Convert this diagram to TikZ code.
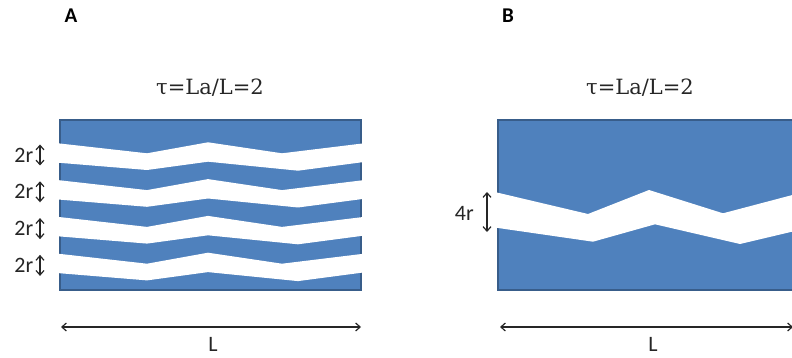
\documentclass[tikz,border=0pt]{standalone}
\usepackage{fontspec}
\setmainfont{Carlito}
\newfontfamily\taufont{DejaVu Serif}
\usetikzlibrary{arrows.meta}
\definecolor{bandblue}{HTML}{4F81BD}
\definecolor{bandedge}{HTML}{385D8A}
\definecolor{inkgray}{HTML}{262626}

\begin{document}
\begin{tikzpicture}[x=1pt,y=-1pt,
    slab/.style={fill=bandblue,draw=bandedge,line width=1.5pt},
    gap/.style={fill=white,draw=none},
    dimarrow/.style={{Straight Barb[length=4.5pt,width=8pt]}-{Straight Barb[length=4.5pt,width=8pt]},line width=1.2pt,inkgray},
    lbl/.style={font=\fontsize{22}{26}\selectfont,text=inkgray,inner sep=0pt},
    panel/.style={font=\fontsize{21}{25}\selectfont\bfseries,inner sep=0pt},
    ratio/.style={font=\taufont\fontsize{21}{25}\selectfont,text=inkgray,inner sep=0pt}]
    \clip (0,0) rectangle (792,358);

    % A: vier smalle spleten
    \node[panel] (titleA) at (71,16) {A};
    \node[ratio] (ratioA) at (210,88) {τ=La/L=2};
    \draw[slab] (60,120) rectangle (361,290);
    \foreach \k in {0,...,3} {
        \pgfmathsetmacro{\dy}{36.8*\k}
        \fill[gap] (58,{143.3+\dy}) -- (147,{153.3+\dy}) -- (208,{142.3+\dy}) -- (282,{153.3+\dy}) -- (364,{143.3+\dy})
            -- (364,{162+\dy}) -- (298,{170.7+\dy}) -- (208,{161.7+\dy}) -- (147,{170+\dy}) -- (58,{162.7+\dy}) -- cycle;
        \coordinate (rtop\k) at (40,{144.5+\dy});
        \coordinate (rbot\k) at (40,{165.5+\dy});
        \draw[dimarrow] (rtop\k) -- (rbot\k);
        \node[lbl,anchor=east] (rlab\k) at (33.5,{155+\dy}) {2r};
    }
    \coordinate (LAl) at (61,327);
    \coordinate (LAr) at (361,327);
    \draw[dimarrow] (LAl) -- (LAr);
    \node[lbl] (LA) at (213,344) {L};

    % B: een brede spleet
    \node[panel] (titleB) at (508,16) {B};
    \node[ratio] (ratioB) at (640,88) {τ=La/L=2};
    \draw[slab] (498,120) rectangle (810,290);
    \fill[gap] (496,192.3) -- (588,214) -- (649,190) -- (723,213.3) -- (800,193)
        -- (800,229.8) -- (740,244) -- (655,224.3) -- (593,241.7) -- (496,227.7) -- cycle;
    \coordinate (wtop) at (487,192);
    \coordinate (wbot) at (487,232);
    \draw[dimarrow] (wtop) -- (wbot);
    \node[lbl,anchor=east] (wlab) at (474,213) {4r};
    \coordinate (LBl) at (500,327);
    \coordinate (LBr) at (793,327);
    \draw[dimarrow] (LBl) -- (LBr);
    \node[lbl] (LB) at (653,344) {L};
\end{tikzpicture}
\end{document}
